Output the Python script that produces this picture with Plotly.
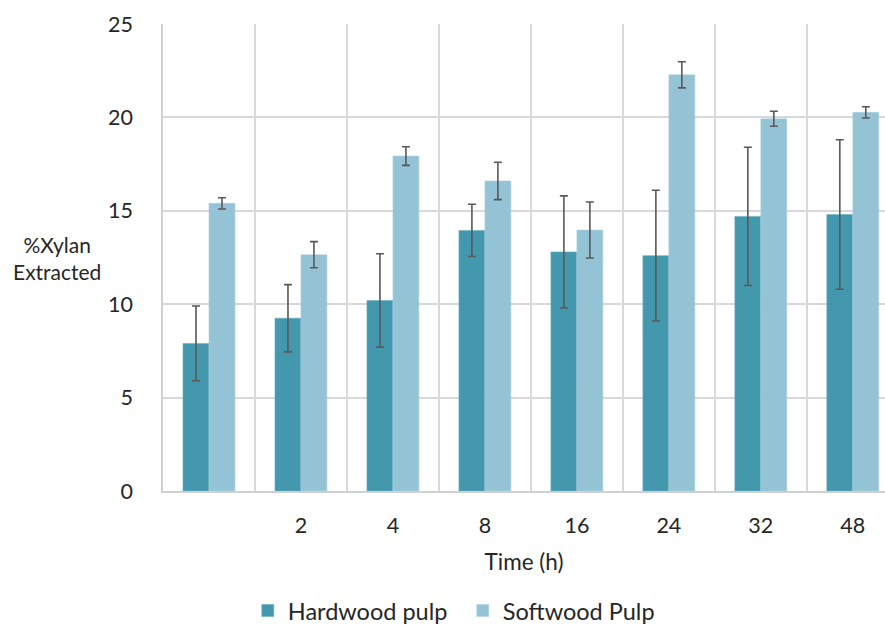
import plotly.graph_objects as go

categories = ["", "2", "4", "8", "16", "24", "32", "48"]
hardwood = [7.9, 9.25, 10.2, 13.95, 12.8, 12.6, 14.7, 14.8]
hardwood_err = [2.0, 1.8, 2.5, 1.4, 3.0, 3.5, 3.7, 4.0]
softwood = [15.4, 12.65, 17.93, 16.6, 13.97, 22.28, 19.93, 20.27]
softwood_err = [0.3, 0.7, 0.5, 1.0, 1.5, 0.7, 0.4, 0.3]

x = list(range(len(categories)))
font_family = "Lato, 'Open Sans', sans-serif"
text_color = "#262626"
err_style = dict(type="data", thickness=1.6, width=4, color="#595959")

fig = go.Figure()
fig.add_trace(go.Bar(
    x=x, y=hardwood, name="Hardwood pulp",
    marker=dict(color="#4398AE", line=dict(color="#6aaec0", width=0.6)),
    error_y=dict(array=hardwood_err, **err_style),
))
fig.add_trace(go.Bar(
    x=x, y=softwood, name="Softwood Pulp",
    marker=dict(color="#93C3D5", line=dict(color="#b0d4e2", width=0.6)),
    error_y=dict(array=softwood_err, **err_style),
))

fig.update_layout(
    width=885, height=625,
    margin=dict(l=163, r=0, t=24, b=134, autoexpand=False),
    paper_bgcolor="white", plot_bgcolor="white",
    barmode="group", bargap=0.435, bargroupgap=0,
    font=dict(family=font_family, size=21.5, color=text_color),
    showlegend=True,
    legend=dict(orientation="h", xref="container", yref="container",
                x=0.280, xanchor="left", y=0.058, yanchor="top",
                font=dict(size=23.5, color=text_color), itemwidth=30,
                entrywidth=170, traceorder="normal"),
    xaxis=dict(
        range=[-0.5, 7.35],
        tickmode="array", tickvals=x, ticktext=categories,
        showgrid=False, zeroline=False,
        showline=True, linecolor="#D0D0D0", linewidth=2,
        ticks="outside", ticklen=14, tickcolor="rgba(0,0,0,0)",
        minor=dict(tickmode="linear", tick0=0.5, dtick=1, showgrid=True,
                   gridcolor="#D9D9D9", gridwidth=1.5, ticks=""),
        title=dict(text="Time (h)", standoff=17, font=dict(size=22.5, color=text_color)),
    ),
    yaxis=dict(
        range=[0, 25], tickmode="linear", tick0=0, dtick=5,
        showgrid=True, gridcolor="#D9D9D9", gridwidth=1.5,
        zeroline=False,
        showline=True, linecolor="#D0D0D0", linewidth=1.5,
        ticks="outside", ticklen=24, tickcolor="rgba(0,0,0,0)",
    ),
    annotations=[dict(
        text="%Xylan<br>Extracted", xref="paper", yref="paper",
        x=-0.147, y=0.499, xanchor="center", yanchor="middle",
        showarrow=False, align="center", font=dict(size=21, color=text_color),
    )],
)

fig.write_html("out.html", config={"displayModeBar": False},
               post_script="document.body.style.margin='0';document.body.style.overflow='hidden';")
